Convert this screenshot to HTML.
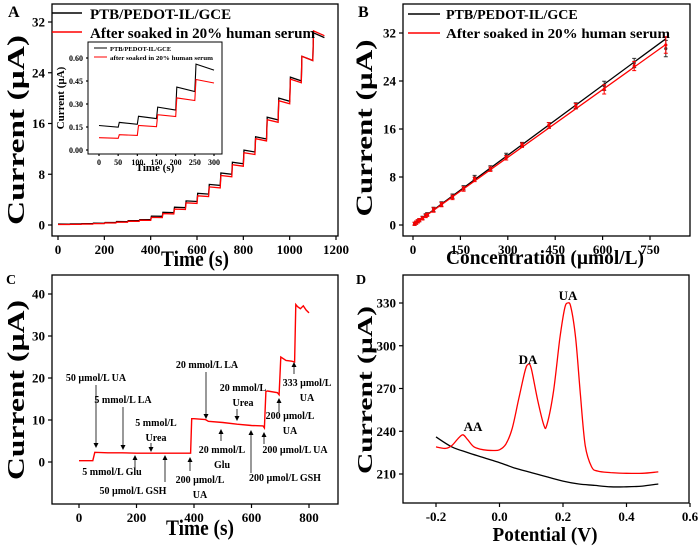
<!DOCTYPE html>
<html><head><meta charset="utf-8"><style>
html,body{margin:0;padding:0;background:#fff}
svg{display:block;font-family:"Liberation Serif",serif;font-weight:bold}
</style></head><body>
<svg id="fig" width="700" height="546" viewBox="0 0 700 546"></svg>
<script>
// ---- Panel A data ----
const aStepTimes=[0,50,100,150,200,250,300,350,400,450,500,550,600,650,700,750,800,850,900,950,1000,1050,1100];
const aBlack=[0.15,0.18,0.22,0.28,0.4,0.55,0.7,0.85,1.4,2.0,2.8,3.8,5.0,6.4,8.2,9.9,11.8,13.9,17,20,23.3,26.6,30.3];
const aRed=[0.08,0.1,0.15,0.22,0.33,0.46,0.6,0.75,1.2,1.8,2.5,3.5,4.6,6.0,7.8,9.5,11.4,13.6,16.6,19.6,23,26.6,30.6];
const aXTicks=[0,200,400,600,800,1000,1200];
const aYTicks=[0,8,16,24,32];
// inset
const inTimes=[0,50,100,150,200,250];
const inBlack=[0.16,0.18,0.22,0.28,0.41,0.56];
const inRed=[0.08,0.10,0.16,0.23,0.34,0.46];
const inXTicks=[0,50,100,150,200,250,300];
const inYTicks=[0,0.15,0.30,0.45,0.60];
// ---- Panel B data ----
const bConc=[5,10,15,20,30,40,45,65,90,125,160,195,245,295,345,430,515,605,700,800];
const bBlack=[0.2,0.4,0.6,0.8,1.2,1.6,1.8,2.6,3.5,4.8,6.2,7.9,9.5,11.6,13.4,16.6,19.9,23.2,27.0,29.4];
const bRed=[0.2,0.4,0.6,0.8,1.1,1.5,1.7,2.5,3.4,4.6,6.0,7.6,9.3,11.2,13.3,16.6,19.8,22.6,26.5,30.0];
const bErr=[0.1,0.1,0.1,0.1,0.1,0.1,0.1,0.2,0.2,0.2,0.2,0.2,0.2,0.2,0.2,0.3,0.3,0.6,0.6,1.2];
const bLineEnd=[0,800];
const bSlope=[0.0388,0.0376];
const bXTicks=[0,150,300,450,600,750];
const bYTicks=[0,8,16,24,32];
// ---- Panel C data ----
const cT=[0,48,55,100,150,200,250,300,350,388,392,400,440,450,500,550,600,640,645,650,656,690,696,702,720,740,750,754,760,770,780,790,800];
const cI=[0.3,0.3,2.3,2.2,2.2,2.1,2.1,2.1,2.1,2.1,10.3,10.3,10.1,9.7,9.4,9.0,8.7,8.6,8.1,16.8,16.9,16.5,16.0,25.0,24.2,24.0,23.8,37.5,37.0,36.5,37.2,36.2,35.5];
const cXTicks=[0,200,400,600,800];
const cYTicks=[0,10,20,30,40];
// ---- Panel D data ----
const dRedV=[-0.2,-0.17,-0.15,-0.13,-0.115,-0.1,-0.08,-0.05,-0.02,0,0.02,0.04,0.06,0.08,0.09,0.1,0.12,0.14,0.15,0.17,0.19,0.205,0.215,0.225,0.24,0.255,0.27,0.29,0.31,0.35,0.4,0.45,0.5];
const dRedI=[229,228,230,235,237.5,234,229,227,226.5,227,231,242,262,282,287,284,262,244,245,268,305,326,330,327,305,265,230,215,212,211,210.5,210.5,211.5];
const dBlkV=[-0.2,-0.15,-0.1,-0.05,0,0.05,0.1,0.15,0.2,0.25,0.3,0.35,0.4,0.45,0.5];
const dBlkI=[236,229,225,221.5,218,214,211,208,205,203,202,201,201,201.5,203];
const dXTicks=[-0.2,0,0.2,0.4,0.6];
const dYTicks=[210,240,270,300,330];

const NS="http://www.w3.org/2000/svg";
const svg=document.getElementById('fig');
function mk(tag,attrs,parent,text){const e=document.createElementNS(NS,tag);for(const k in attrs)e.setAttribute(k,attrs[k]);if(text!==undefined)e.textContent=text;(parent||svg).appendChild(e);return e;}
function lin(d0,d1,r0,r1){return v=>r0+(v-d0)*(r1-r0)/(d1-d0);}
function frame(g,x0,y0,x1,y1,sw){const r=mk('rect',{x:x0,y:y0,width:x1-x0,height:y1-y0,fill:'none',stroke:'#000','stroke-width':sw||1.3},g);}
function xticks(g,ticks,sx,yb,fs,fmt,len){for(const t of ticks){const x=sx(t);mk('line',{x1:x,y1:yb,x2:x,y2:yb+(len||4),stroke:'#000','stroke-width':1.2},g);const tx=mk('text',{x:x,y:yb+(len||4)+fs+1,'font-size':fs,'text-anchor':'middle'},g,fmt?fmt(t):t);}}
function yticks(g,ticks,sy,xl,fs,fmt,len){for(const t of ticks){const y=sy(t);mk('line',{x1:xl-(len||4),y1:y,x2:xl,y2:y,stroke:'#000','stroke-width':1.2},g);const tx=mk('text',{x:xl-(len||4)-3,y:y+fs*0.35,'font-size':fs,'text-anchor':'end'},g,fmt?fmt(t):t);}}
function path(g,pts,color,w,name){const d=pts.map((p,i)=>(i?'L':'M')+p[0].toFixed(1)+','+p[1].toFixed(1)).join('');const p=mk('path',{d:d,fill:'none',stroke:color,'stroke-width':w||1.3},g);return p;}
function smooth(g,pts,color,w,name){let d='M'+pts[0][0].toFixed(1)+','+pts[0][1].toFixed(1);for(let i=0;i<pts.length-1;i++){const p0=pts[i-1]||pts[i],p1=pts[i],p2=pts[i+1],p3=pts[i+2]||p2;const c1=[p1[0]+(p2[0]-p0[0])/6,p1[1]+(p2[1]-p0[1])/6],c2=[p2[0]-(p3[0]-p1[0])/6,p2[1]-(p3[1]-p1[1])/6];d+=`C${c1[0].toFixed(1)},${c1[1].toFixed(1)} ${c2[0].toFixed(1)},${c2[1].toFixed(1)} ${p2[0].toFixed(1)},${p2[1].toFixed(1)}`;}const p=mk('path',{d:d,fill:'none',stroke:color,'stroke-width':w||1.3},g);return p;}
function group(name){const g=mk('g',{});return g;}
function label(g,txt,x,y,fs,name,extra){const a=Object.assign({x:x,y:y,'font-size':fs},extra||{});if(a.textLength)a.lengthAdjust='spacingAndGlyphs';const t=mk('text',a,g,txt);return t;}
function stairs(times,vals,sx,sy,endT,endFactor){const pts=[];for(let i=0;i<times.length;i++){const t=times[i],v=vals[i];const tn=i<times.length-1?times[i+1]:endT;if(i>0)pts.push([sx(t+3),sy(v)]);else pts.push([sx(t),sy(v)]);pts.push([sx(tn),sy(v*endFactor)]);}return pts;}

// ===== Panel A =====
(function(){const g=group('panel-a');
const sx=lin(0,1200,58,336),sy=lin(0,32,225,22);
frame(g,52,4,338,236);
xticks(g,aXTicks,sx,236,13);yticks(g,aYTicks,sy,52,13);
path(g,stairs(aStepTimes,aBlack,sx,sy,1150,0.975),'#000',1.3,'series-ptb-pedot');
path(g,stairs(aStepTimes,aRed,sx,sy,1150,0.975),'#f00',1.3,'series-after-serum');
label(g,'A',8,17,16,'panel-label-a');
label(g,'Time (s)',195,266,22,'x-axis-title',{'text-anchor':'middle',textLength:68});
label(g,'Current (µA)',0,0,24,'y-axis-title',{'text-anchor':'middle',transform:'translate(24,130) rotate(-90)',textLength:190});
const l1=mk('line',{x1:52,y1:13,x2:82,y2:13,stroke:'#000','stroke-width':1.5},g);
const l2=mk('line',{x1:52,y1:32,x2:82,y2:32,stroke:'#f00','stroke-width':1.5},g);
label(g,'PTB/PEDOT-IL/GCE',90,19,15,'legend-entry-black');
label(g,'After soaked in 20% human serum',90,38,15,'legend-entry-red',{textLength:225});
// inset
const ig=group('inset-chart');
const ix=lin(0,300,99,214),iy=lin(0,0.6,150,58);
mk('rect',{x:88,y:42,width:134,height:112,fill:'#fff',stroke:'none'},ig);
frame(ig,88,42,222,154,1);
xticks(ig,inXTicks,ix,154,8,null,2);yticks(ig,inYTicks,iy,88,8,t=>t.toFixed(2),2);
path(ig,stairs(inTimes,inBlack,ix,iy,300,0.93),'#000',1.1,'inset-series-black');
path(ig,stairs(inTimes,inRed,ix,iy,300,0.95),'#f00',1.1,'inset-series-red');
mk('line',{x1:94,y1:48,x2:107,y2:48,stroke:'#000','stroke-width':1},ig);
mk('line',{x1:94,y1:57,x2:107,y2:57,stroke:'#f00','stroke-width':1},ig);
label(ig,'PTB/PEDOT-IL/GCE',110,51,6.5,'inset-legend-black');
label(ig,'after soaked in 20% human serum',110,60,6.5,'inset-legend-red',{textLength:103});
label(ig,'Time (s)',155,171,11,'inset-x-title',{'text-anchor':'middle'});
label(ig,'Current (µA)',0,0,11,'inset-y-title',{'text-anchor':'middle',transform:'translate(64,98) rotate(-90)'});
})();

// ===== Panel B =====
(function(){const g=group('panel-b');
const sx=lin(0,750,413,650),sy=lin(0,32,225,33);
frame(g,403,4,690,236);
xticks(g,bXTicks,sx,236,13);yticks(g,bYTicks,sy,403,13);
path(g,[[sx(bLineEnd[0]),sy(bLineEnd[0]*bSlope[0])],[sx(bLineEnd[1]),sy(bLineEnd[1]*bSlope[0])]],'#000',1.3,'fit-line-black');
path(g,[[sx(bLineEnd[0]),sy(bLineEnd[0]*bSlope[1])],[sx(bLineEnd[1]),sy(bLineEnd[1]*bSlope[1])]],'#f00',1.3,'fit-line-red');
for(let i=0;i<bConc.length;i++){
 for(const [arr,col] of [[bBlack,'#333'],[bRed,'#f00']]){
  const x=sx(bConc[i]),y=sy(arr[i]),e=bErr[i]*(sy(0)-sy(1));
  const p=mk('path',{d:`M${x},${y-e-1}V${y+e+1}M${x-2},${y-e-1}h4M${x-2},${y+e+1}h4`,stroke:col,'stroke-width':1,fill:'none'},g);
  
  const c=mk('circle',{cx:x,cy:y,r:1.6,fill:col},g);
  
 }}
label(g,'B',358,17,16,'panel-label-b');
label(g,'Concentration (µmol/L)',545,264,20,'x-axis-title',{'text-anchor':'middle',textLength:198});
label(g,'Current (µA)',0,0,23,'y-axis-title',{'text-anchor':'middle',transform:'translate(372,128) rotate(-90)',textLength:177});
const l1=mk('line',{x1:408,y1:14,x2:440,y2:14,stroke:'#000','stroke-width':1.5},g);
const l2=mk('line',{x1:408,y1:33,x2:440,y2:33,stroke:'#f00','stroke-width':1.5},g);
label(g,'PTB/PEDOT-IL/GCE',446,19,14,'legend-entry-black');
label(g,'After soaked in 20% human serum',446,38,14,'legend-entry-red',{textLength:224});
})();

// ===== Panel C =====
(function(){const g=group('panel-c');
const sx=lin(0,800,79,309),sy=lin(0,40,462,294);
frame(g,52,275,338,504);
xticks(g,cXTicks,sx,504,13);yticks(g,cYTicks,sy,52,13);
path(g,cT.map((t,i)=>[sx(t),sy(cI[i])]),'#f00',1.4,'series-interference');
label(g,'C',6,284,14,'panel-label-c');
label(g,'Time (s)',200,535,22,'x-axis-title',{'text-anchor':'middle',textLength:68});
label(g,'Current (µA)',0,0,24,'y-axis-title',{'text-anchor':'middle',transform:'translate(24,390) rotate(-90)',textLength:180});
const anns=[
 [['50 µmol/L UA'],96,381,96,385,448],
 [['5 mmol/L LA'],123,403,123,407,450],
 [['5 mmol/L','Urea'],156,426,151,443,452],
 [['5 mmol/L Glu'],112,475,135,468,455],
 [['50 µmol/L GSH'],133,494,165,482,455],
 [['200 µmol/L','UA'],200,483,190,471,457],
 [['20 mmol/L LA'],207,368,206,372,419],
 [['20 mmol/L','Glu'],222,453,221,441,429],
 [['20 mmol/L','Urea'],243,391,237,409,421],
 [['200 µmol/L GSH'],285,481,251,473,430],
 [['200 µmol/L UA'],295,453,264,444,432],
 [['200 µmol/L','UA'],290,419,279,412,398],
 [['333 µmol/L','UA'],307,386,294,374,362]];
for(const a of anns){
 a[0].forEach((s,k)=>label(g,s,a[1],a[2]+k*15,10,'annotation-label',{'text-anchor':'middle'}));
 const x=a[3],y1=a[4],y2=a[5],dir=y2>y1?1:-1;
 const p=mk('path',{d:`M${x},${y1}V${y2-dir*4}`,stroke:'#000','stroke-width':0.8},g);
 mk('path',{d:`M${x-2.5},${y2-dir*5}L${x},${y2}L${x+2.5},${y2-dir*5}Z`,fill:'#000'},g);
}
})();

// ===== Panel D =====
(function(){const g=group('panel-d');
const sx=lin(-0.2,0.6,436,690),sy=lin(210,330,474,303);
frame(g,403,275,689,503);
xticks(g,dXTicks,sx,503,13,t=>t.toFixed(1));yticks(g,dYTicks,sy,403,13);
smooth(g,dBlkV.map((v,i)=>[sx(v),sy(dBlkI[i])]),'#000',1.3,'series-bare');
smooth(g,dRedV.map((v,i)=>[sx(v),sy(dRedI[i])]),'#f00',1.3,'series-modified');
label(g,'D',356,284,14,'panel-label-d');
label(g,'AA',473,431,13,'peak-label-aa',{'text-anchor':'middle'});
label(g,'DA',528,364,13,'peak-label-da',{'text-anchor':'middle'});
label(g,'UA',568,300,13,'peak-label-ua',{'text-anchor':'middle'});
label(g,'Potential (V)',545,541,20,'x-axis-title',{'text-anchor':'middle',textLength:105});
label(g,'Current (µA)',0,0,21,'y-axis-title',{'text-anchor':'middle',transform:'translate(372,390) rotate(-90)',textLength:168});
})();
</script>
</body></html>
